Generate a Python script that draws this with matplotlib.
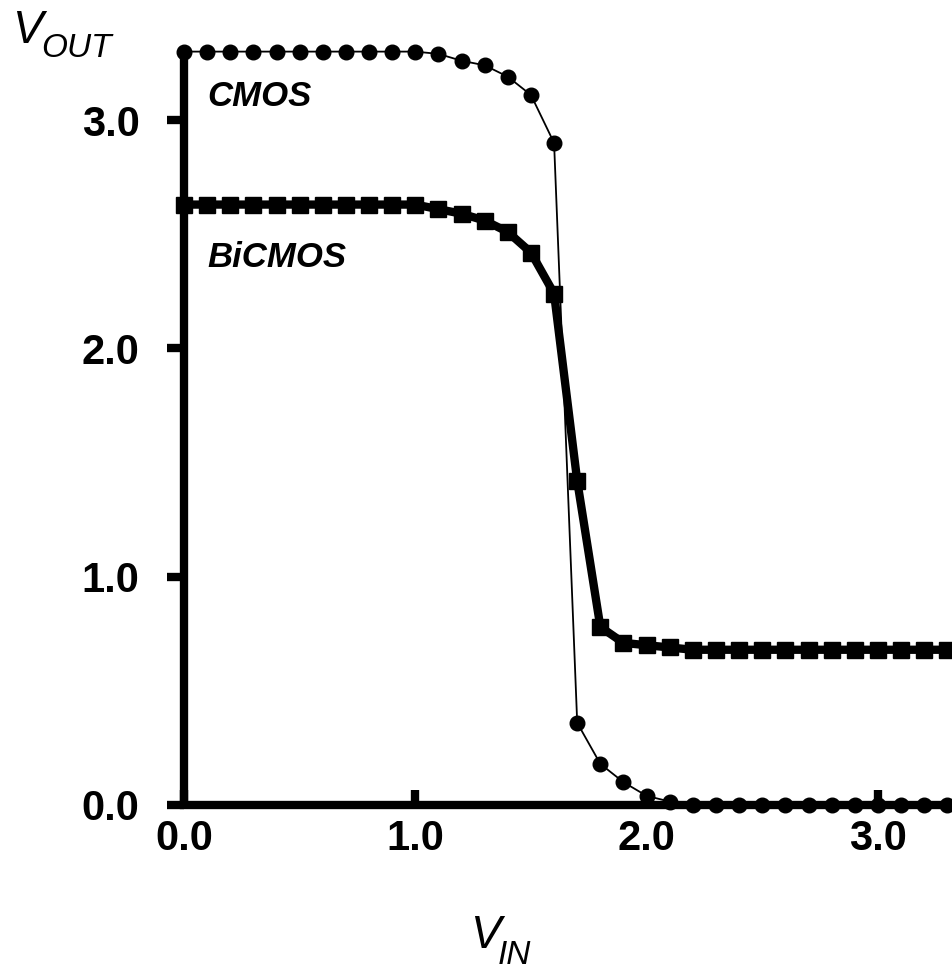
import matplotlib
matplotlib.use("Agg")
import matplotlib.pyplot as plt

plt.rcParams['font.family'] = ['Liberation Sans', 'DejaVu Sans']

# Data
vin = [round(0.1 * i, 1) for i in range(34)]  # 0.0 .. 3.3
cmos = [3.30, 3.30, 3.30, 3.30, 3.30, 3.30, 3.30, 3.30, 3.30, 3.30, 3.30,
        3.29, 3.26, 3.24, 3.19, 3.11, 2.90, 0.36, 0.18, 0.10, 0.04, 0.015,
        0.0, 0.0, 0.0, 0.0, 0.0, 0.0, 0.0, 0.0, 0.0, 0.0, 0.0, 0.0]
bicmos = [2.63, 2.63, 2.63, 2.63, 2.63, 2.63, 2.63, 2.63, 2.63, 2.63, 2.63,
          2.61, 2.59, 2.56, 2.51, 2.42, 2.24, 1.42, 0.78, 0.71, 0.70, 0.69,
          0.68, 0.68, 0.68, 0.68, 0.68, 0.68, 0.68, 0.68, 0.68, 0.68, 0.68, 0.68]
xticks = [0.0, 1.0, 2.0, 3.0]
yticks = [0.0, 1.0, 2.0, 3.0]
tick_labels = ["0.0", "1.0", "2.0", "3.0"]

W, H = 952, 976
fig = plt.figure(figsize=(W / 100, H / 100), dpi=100)
x0px, y0px = 184, 805
ux, uy = 231.3, 228.3
ax = fig.add_axes([x0px / W, (H - y0px) / H, (W - x0px) / W, y0px / H])
ax.set_xlim(0, (W - x0px) / ux)
ax.set_ylim(0, y0px / uy)

ax.plot(vin, cmos, color='black', lw=1.3, marker='o', ms=10.5, clip_on=False, zorder=3)
ax.plot(vin, bicmos, color='black', lw=6, marker='s', ms=11, clip_on=False, zorder=3)

for s in ['top', 'right']:
    ax.spines[s].set_visible(False)
for s in ['left', 'bottom']:
    ax.spines[s].set_linewidth(6)
ax.spines['left'].set_bounds(0, 3.3)
ax.spines['left'].set_capstyle('butt')

ax.set_xticks(xticks)
ax.set_xticklabels(tick_labels)
ax.set_yticks(yticks)
ax.set_yticklabels(tick_labels)
ax.tick_params(axis='x', direction='in', length=11, width=6, pad=10,
               labelsize=30)
ax.tick_params(axis='y', direction='out', length=12, width=6, pad=20,
               labelsize=30)
for lab in ax.get_xticklabels() + ax.get_yticklabels():
    lab.set_fontweight('bold')

ax.text(0.10, 3.105, "CMOS", fontsize=25, fontweight='bold', fontstyle='italic',
        va='center', ha='left')
ax.text(0.10, 2.396, "BiCMOS", fontsize=25, fontweight='bold', fontstyle='italic',
        va='center', ha='left')

# Axis titles with subscripts
fig.text(12 / W, 1 - 43 / H, "V", fontsize=33, fontstyle='italic', ha='left', va='baseline')
fig.text(41 / W, 1 - 57 / H, "OUT", fontsize=24, fontstyle='italic', ha='left', va='baseline')
fig.text(470 / W, 1 - 948 / H, "V", fontsize=33, fontstyle='italic', ha='left', va='baseline')
fig.text(498 / W, 1 - 964 / H, "IN", fontsize=24, fontstyle='italic', ha='left', va='baseline')

fig.savefig("out.png", dpi=100)
